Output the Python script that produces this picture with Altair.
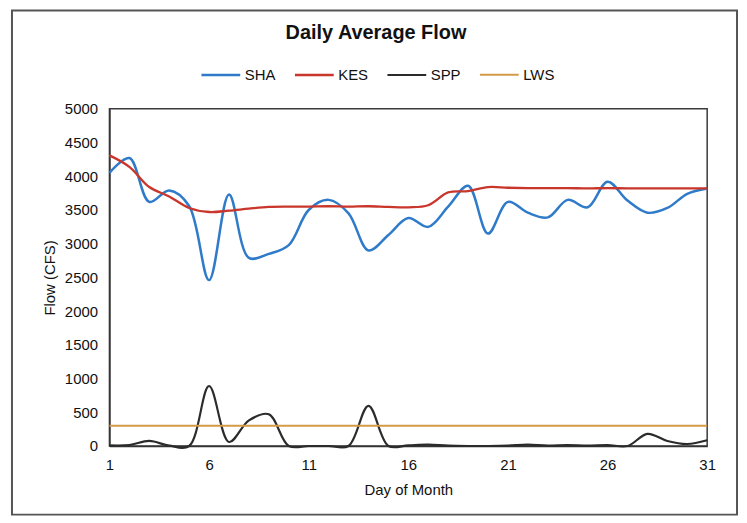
import altair as alt
import pandas as pd

days = [1, 2, 3, 4, 5, 6, 7, 8, 9, 10, 11, 12, 13, 14, 15, 16,
        17, 18, 19, 20, 21, 22, 23, 24, 25, 26, 27, 28, 29, 30, 31]

sha = [4050, 4270, 3620, 3790, 3560, 2460, 3730, 2790, 2850, 2980, 3500,
       3650, 3450, 2900, 3130, 3380, 3250, 3550, 3860, 3150, 3620, 3460,
       3390, 3650, 3540, 3920, 3640, 3460, 3530, 3740, 3820]
kes = [4310, 4140, 3840, 3700, 3530, 3470, 3490, 3520, 3545, 3550, 3550,
       3555, 3550, 3555, 3545, 3540, 3570, 3760, 3780, 3840, 3830, 3825,
       3825, 3825, 3820, 3825, 3820, 3820, 3820, 3820, 3820]
spp = [10, 15, 75, 5, 0, 890, 60, 380, 470, 0, 0, 0, 0, 595, 0, 10,
       20, 5, 0, 0, 5, 20, 5, 15, 5, 15, 0, 180, 75, 30, 85]
lws = [300, 300, 300, 300, 300, 300, 300, 300, 300, 300, 300, 300, 300,
       300, 300, 300, 300, 300, 300, 300, 300, 300, 300, 300, 300, 300,
       300, 300, 300, 300, 300]

series_names = ["SHA", "KES", "SPP", "LWS"]
series_colors = ["#2F7BC9", "#C9362B", "#2B2B2B", "#D49A45"]
series_widths = [2.5, 2.0, 2.0, 1.5]
x_ticks = [1, 6, 11, 16, 21, 26, 31]
y_ticks = [0, 500, 1000, 1500, 2000, 2500, 3000, 3500, 4000, 4500, 5000]

rows = []
for name, vals in zip(series_names, [sha, kes, spp, lws]):
    for d, v in zip(days, vals):
        rows.append({"day": d, "flow": v, "series": name})
df = pd.DataFrame(rows)

FONT = "Liberation Sans"
one = pd.DataFrame({"a": [0]})

frame = alt.Chart(one).mark_rect(
    filled=False, stroke="#555555", strokeWidth=2
).encode(
    x=alt.value(-98), x2=alt.value(631), y=alt.value(-99), y2=alt.value(408)
)

title = alt.Chart(one).mark_text(
    text="Daily Average Flow", fontSize=20, fontWeight="bold", font=FONT,
    align="center", baseline="middle", color="#111111"
).encode(x=alt.value(268), y=alt.value(-76))

lines = alt.Chart(df).mark_line(interpolate="catmull-rom").encode(
    x=alt.X("day:Q", title="Day of Month",
            scale=alt.Scale(domain=[1, 31], nice=False),
            axis=alt.Axis(values=x_ticks, format="d", grid=False, ticks=False,
                          labelFlush=False, labelPadding=12, titlePadding=10)),
    y=alt.Y("flow:Q", title="Flow (CFS)",
            scale=alt.Scale(domain=[0, 5000], nice=False),
            axis=alt.Axis(values=y_ticks, format="d", grid=False, ticks=False,
                          labelFlush=False, labelPadding=12, titlePadding=7)),
    color=alt.Color("series:N", title=None,
                    scale=alt.Scale(domain=series_names, range=series_colors),
                    sort=series_names,
                    legend=alt.Legend(orient="none", legendX=91, legendY=-55,
                                      direction="horizontal", columns=4,
                                      symbolType="stroke", symbolSize=1521,
                                      symbolStrokeWidth=2, labelFontSize=15,
                                      labelFont=FONT, labelOffset=3,
                                      columnPadding=14, labelColor="#111111")),
    strokeWidth=alt.StrokeWidth("series:N",
                                scale=alt.Scale(domain=series_names, range=series_widths),
                                legend=None),
    order=alt.Order("day:Q"),
)

chart = alt.layer(frame, title, lines).properties(
    width=601, height=339,
    autosize=alt.AutoSizeParams(type="none"),
    padding={"left": 102, "top": 100, "right": 32, "bottom": 72},
).configure_view(
    stroke="#3a3a3a", strokeWidth=1.5
).configure_axis(
    labelFont=FONT, titleFont=FONT, labelFontSize=15, titleFontSize=15,
    labelColor="#111111", titleColor="#111111", titleFontWeight="normal",
    domainColor="#333333", domainWidth=1.5
)

chart.save("out.html", embed_options={"renderer": "svg", "actions": False})
